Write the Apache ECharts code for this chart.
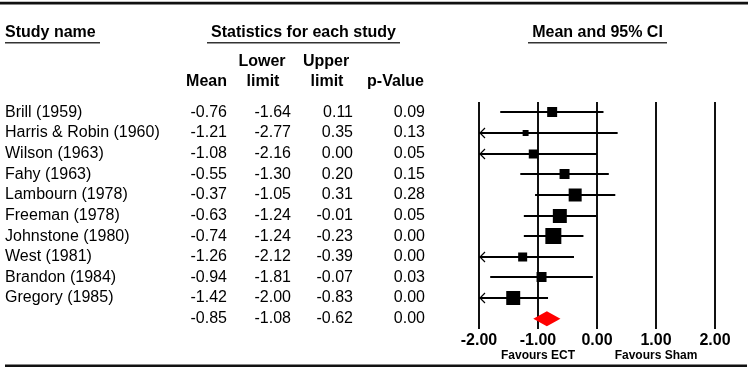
<!DOCTYPE html>
<html><head><meta charset="utf-8">
<script src="https://cdn.jsdelivr.net/npm/echarts@6/dist/echarts.min.js"></script>
<style>html,body{margin:0;padding:0;background:#fff}#c{width:750px;height:370px}</style>
</head><body><div id="c"></div>
<script>
// ---- data ----
const studyNames = ['Brill (1959)','Harris & Robin (1960)','Wilson (1963)','Fahy (1963)','Lambourn (1978)','Freeman (1978)','Johnstone (1980)','West (1981)','Brandon (1984)','Gregory (1985)'];
const means  = [-0.76,-1.21,-1.08,-0.55,-0.37,-0.63,-0.74,-1.26,-0.94,-1.42];
const lowers = [-1.64,-2.77,-2.16,-1.30,-1.05,-1.24,-1.24,-2.12,-1.81,-2.00];
const uppers = [0.11,0.35,0.00,0.20,0.31,-0.01,-0.23,-0.39,-0.07,-0.83];
const pValues = [0.09,0.13,0.05,0.15,0.28,0.05,0.00,0.00,0.03,0.00];
const weights = [7.6,2.7,6.2,7.6,12.9,14.9,19.5,6.2,7.6,14.9];
const summaryMean = -0.85, summaryLower = -1.08, summaryUpper = -0.62, summaryP = 0.00;
const xTicks = [-2, -1, 0, 1, 2];
const favourLabels = ['Favours ECT', 'Favours Sham'];
const favourAt = [-1, 1];

// ---- layout ----
const FONT = '"Liberation Sans", Arial, sans-serif';
const nRows = studyNames.length + 1;
const rowCats = Array.from({length: nRows}, (_, i) => String(i));
const colName = 5, colMean = 227, colLower = 291, colUpper = 353, colP = 425;
const xMin = xTicks[0], xMax = xTicks[xTicks.length - 1];

const chart = echarts.init(document.getElementById('c'), null, {renderer: 'canvas'});

const studyData = studyNames.map((n, i) => [means[i], i, lowers[i], uppers[i], weights[i]]);
const tableData = [];
for (let i = 0; i < studyNames.length; i++) {
  tableData.push([0, i, studyNames[i], means[i], lowers[i], uppers[i], pValues[i]]);
}
tableData.push([0, studyNames.length, '', summaryMean, summaryLower, summaryUpper, summaryP]);

function txt(t, x, y, align, size, bold) {
  return {type: 'text', style: {text: t, x: x, y: y, align: align, verticalAlign: 'middle',
    font: (bold ? 'bold ' : '') + size + 'px ' + FONT, fill: '#000'}, z2: 10};
}

const option = {
  animation: false,
  backgroundColor: '#fff',
  grid: {left: 479, width: 236, top: 102, height: 227},
  xAxis: {
    type: 'value', min: xMin, max: xMax, interval: 1,
    axisLine: {show: false}, axisTick: {show: false},
    splitLine: {show: true, lineStyle: {color: '#111', width: 2}},
    axisLabel: {formatter: v => v.toFixed(2), fontFamily: FONT, fontWeight: 'bold', fontSize: 16, color: '#000', margin: 4}
  },
  yAxis: {
    type: 'category', data: rowCats, inverse: true, show: false
  },
  series: [
    {
      type: 'custom', clip: false,
      data: studyData,
      encode: {x: 0, y: 1},
      renderItem: function (params, api) {
        const m = api.value(0), row = api.value(1), lo = api.value(2), hi = api.value(3), w = api.value(4);
        const loC = Math.max(lo, xMin);
        const p0 = api.coord([loC, row]), p1 = api.coord([hi, row]), pm = api.coord([m, row]);
        const y = Math.round(pm[1]);
        const s = 3.62 * Math.sqrt(w);
        const children = [
          {type: 'line', shape: {x1: p0[0], y1: y, x2: p1[0], y2: y}, style: {stroke: '#000', lineWidth: 2}},
          {type: 'rect', shape: {x: pm[0] - s / 2, y: y - s / 2, width: s, height: s}, style: {fill: '#000'}}
        ];
        if (lo <= xMin) {
          children.push({type: 'polyline', shape: {points: [[p0[0] + 6, y - 5], [p0[0] + 1, y], [p0[0] + 6, y + 5]]},
            style: {stroke: '#000', lineWidth: 1.2, fill: null}});
        }
        return {type: 'group', children: children};
      }
    },
    {
      type: 'custom', clip: false,
      data: [[summaryMean, studyNames.length, summaryLower, summaryUpper]],
      encode: {x: 0, y: 1},
      renderItem: function (params, api) {
        const row = api.value(1);
        const pm = api.coord([api.value(0), row]);
        const pl = api.coord([api.value(2), row]);
        const pu = api.coord([api.value(3), row]);
        const h = 7.5;
        return {type: 'polygon', shape: {points: [[pl[0], pm[1]], [pm[0], pm[1] - h], [pu[0], pm[1]], [pm[0], pm[1] + h]]},
          style: {fill: '#ff0000'}};
      }
    },
    {
      type: 'custom', clip: false, silent: true,
      data: tableData,
      encode: {x: 0, y: 1},
      renderItem: function (params, api) {
        const row = api.value(1);
        const y = api.coord([0, row])[1];
        const d = tableData[params.dataIndex];
        return {type: 'group', children: [
          txt(d[2], colName, y, 'left', 16, false),
          txt(d[3].toFixed(2), colMean, y, 'right', 16, false),
          txt(d[4].toFixed(2), colLower, y, 'right', 16, false),
          txt(d[5].toFixed(2), colUpper, y, 'right', 16, false),
          txt(d[6].toFixed(2), colP, y, 'right', 16, false)
        ]};
      }
    }
  ],
  graphic: [
    {type: 'rect', shape: {x: 0, y: 1.8, width: 748, height: 2.6}, style: {fill: '#111'}},
    {type: 'rect', shape: {x: 5, y: 364.5, width: 742, height: 2.6}, style: {fill: '#111'}},
    txt('Study name', 5, 33, 'left', 16, true),
    {type: 'rect', shape: {x: 5, y: 42, width: 95, height: 1.6}, style: {fill: '#333'}},
    txt('Statistics for each study', 303.5, 33, 'center', 16, true),
    {type: 'rect', shape: {x: 207, y: 42, width: 193, height: 1.6}, style: {fill: '#333'}},
    txt('Mean and 95% CI', 597.5, 33, 'center', 16, true),
    {type: 'rect', shape: {x: 528, y: 42, width: 139, height: 1.6}, style: {fill: '#333'}},
    txt('Lower', 262, 62, 'center', 16, true),
    txt('limit', 263, 82, 'center', 16, true),
    txt('Upper', 326, 62, 'center', 16, true),
    txt('limit', 327, 82, 'center', 16, true),
    txt('Mean', 227, 82, 'right', 16, true),
    txt('p-Value', 424, 82, 'right', 16, true)
  ]
};
chart.setOption(option);

const favGraphics = favourLabels.map((t, i) => {
  const px = chart.convertToPixel({xAxisIndex: 0}, favourAt[i]);
  return txt(t, px, 356, 'center', 12, true);
});
chart.setOption({graphic: option.graphic.concat(favGraphics)});
</script>
</body></html>
